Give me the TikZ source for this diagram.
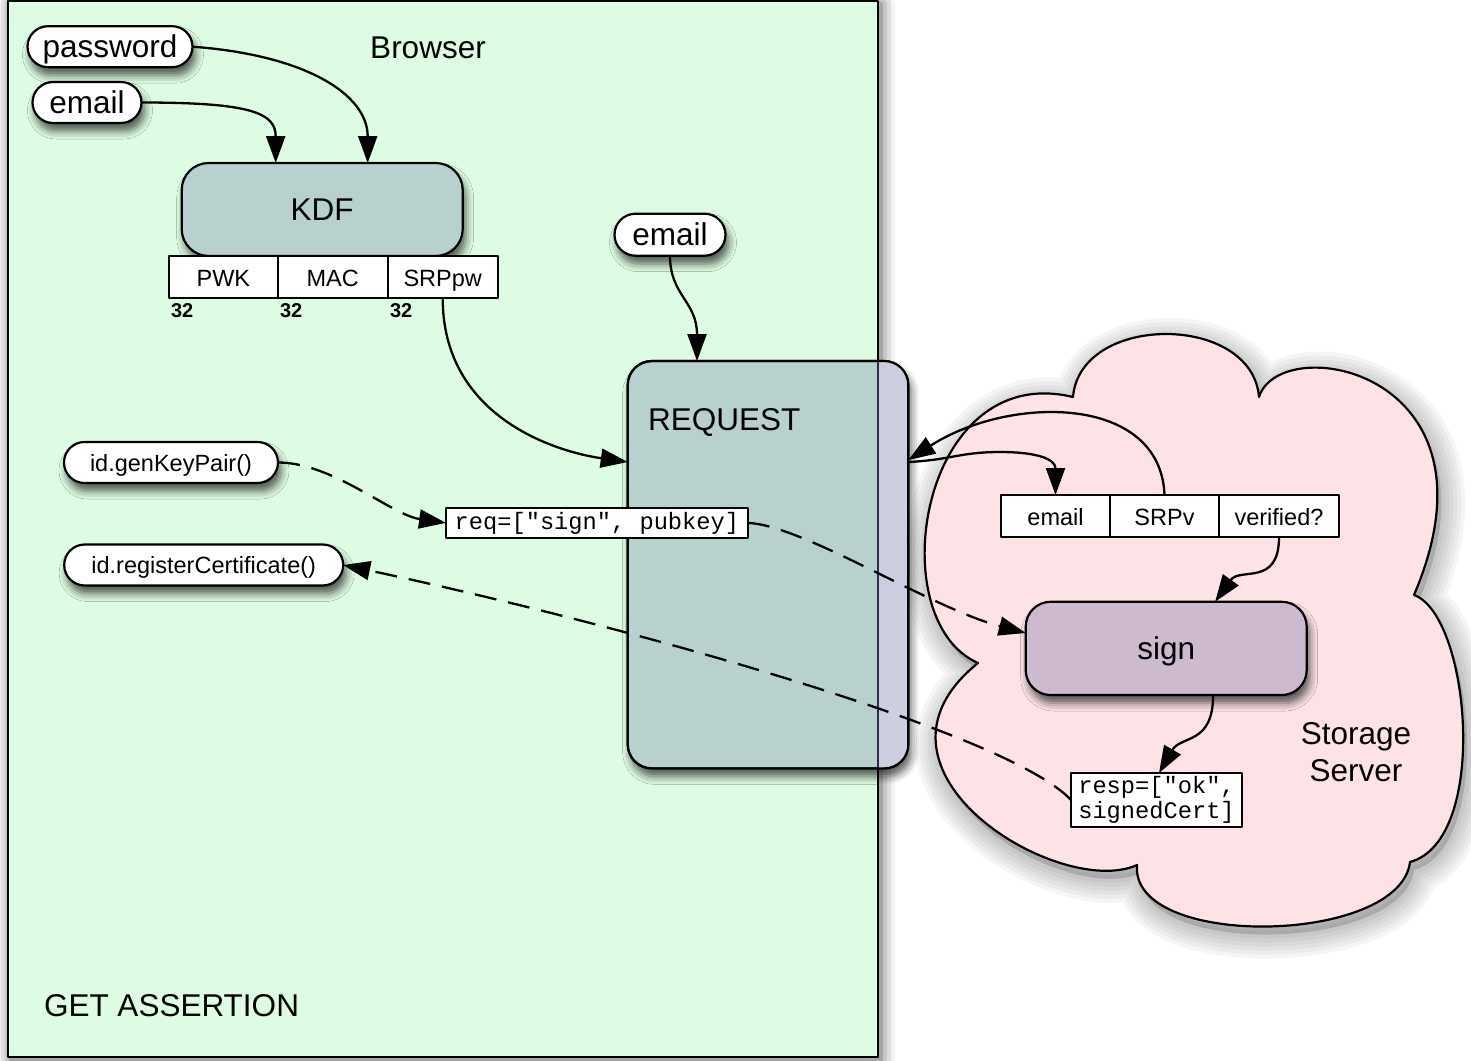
\documentclass[tikz,border=0pt]{standalone}
\usepackage{fontspec}
\setmainfont{Liberation Sans}
\setmonofont{Liberation Mono}
\usetikzlibrary{arrows.meta,shadows,shadows.blur}

\definecolor{browsergreen}{RGB}{222,252,227}
\definecolor{procfill}{RGB}{185,209,206}
\definecolor{procedge}{RGB}{205,207,224}
\definecolor{procline}{RGB}{45,45,70}
\definecolor{signfill}{RGB}{205,186,206}
\definecolor{cloudpink}{RGB}{253,227,230}

\newcommand\fbig{\fontsize{31.5}{36.5}\selectfont}
\newcommand\fmid{\fontsize{23.5}{28}\selectfont}
\newcommand\fcode{\ttfamily\fontsize{23.7}{25}\selectfont}
\newcommand\fbits{\bfseries\fontsize{20}{24}\selectfont}

% outline of the storage-server cloud
\newcommand\cloudoutline{(1073,397) .. controls (1080,313) and (1252,313) .. (1259,397)
  .. controls (1280,330) and (1510,370) .. (1414,595)
  .. controls (1470,615) and (1490,840) .. (1410,862)
  .. controls (1400,945) and (1130,950) .. (1137,865)
  .. controls (1060,900) and (845,770) .. (978,663)
  .. controls (880,620) and (920,360) .. cycle}

\begin{document}
\begin{tikzpicture}[x=1pt, y=-1pt, line join=round,
  every node/.style={outer sep=0pt},
  softshadow/.style={blur shadow={shadow xshift=3pt, shadow yshift=-8pt,
      shadow blur radius=8pt, shadow opacity=65}},
  pill/.style={draw, line width=2.2pt, fill=white, rounded corners=20.5pt,
      minimum height=41pt, inner sep=0pt, text height=21.5pt, text depth=0pt,
      softshadow},
  midpill/.style={pill, font=\fmid, text height=17pt},
  procbox/.style={draw, line width=2.2pt, fill=procfill, inner sep=0pt,
      text height=21.5pt, text depth=0pt, softshadow},
  cell/.style={draw, line width=2.2pt, fill=white, inner sep=0pt,
      minimum height=42pt, text height=18pt, text depth=0pt, font=\fmid},
  codebox/.style={draw, line width=2.2pt, fill=white, inner sep=0pt, font=\fcode},
  conn/.style={line width=2.3pt, -{Triangle[length=27pt, width=19pt]}},
  dconn/.style={conn, dash pattern=on 22pt off 12pt},
]
\useasboundingbox (0,0) rectangle (1471,1060);

% browser frame
\node[draw, line width=2.2pt, fill=browsergreen, minimum width=870pt,
  minimum height=1056pt,
  blur shadow={shadow xshift=3pt, shadow yshift=-3pt, shadow blur radius=14pt,
    shadow opacity=70}] (browser) at (443,529) {};

% storage-server cloud with a soft shadow
\foreach \w in {48,40,32,24,16,8} {
  \draw[black, draw opacity=0.04, line width=\w pt, shift={(4,8)}] \cloudoutline;
}
\fill[black, fill opacity=0.15, shift={(4,8)}] \cloudoutline;
\draw[line width=2.2pt, fill=cloudpink] \cloudoutline;

\node[font=\fbig, inner sep=0pt] (browserlbl) at (428,48) {Browser};
\node[font=\fbig, inner sep=0pt, anchor=base west] (assertlbl) at (44,1016.5) {GET ASSERTION};

% inputs and key derivation
\node[pill, minimum width=165pt, font=\fbig] (pw) at (110,46.7) {password};
\node[pill, minimum width=109pt, font=\fbig] (mail1) at (87,102.5) {email};

\node[procbox, rounded corners=27pt, minimum width=281pt, minimum height=93pt,
  font=\fbig] (kdf) at (322.2,209.5) {KDF};

\node[cell, minimum width=108.7pt] (pwk) at (223.35,277.2) {PWK};
\node[cell, minimum width=110pt] (mac) at (332.7,277.2) {MAC};
\node[cell, minimum width=110pt] (srppw) at (442.7,277.2) {SRPpw};
\node[font=\fbits, inner sep=0pt, anchor=west] (bits1) at (171,311) {32};
\node[font=\fbits, inner sep=0pt, anchor=west] (bits2) at (280,311) {32};
\node[font=\fbits, inner sep=0pt, anchor=west] (bits3) at (390,311) {32};

\node[pill, minimum width=111pt, minimum height=42pt, rounded corners=21pt,
  font=\fbig] (mail2) at (670,234.7) {email};

\node[midpill, minimum width=214pt] (gk) at (171,462.5) {id.genKeyPair()};
\node[midpill, minimum width=279pt] (rc) at (203.7,565) {id.registerCertificate()};

% request box, tinted where it leaves the browser frame
\node[procbox, rounded corners=24pt, minimum width=280.6pt,
  minimum height=407.3pt] (request) at (768,564.7) {};
\begin{scope}
  \clip (878,340) rectangle (940,790);
  \fill[procedge, rounded corners=24pt] (request.south west) rectangle (request.north east);
\end{scope}
\draw[procline, line width=2.2pt] (browser.east |- request.north) -- (browser.east |- request.south);
\draw[line width=2.2pt, rounded corners=24pt] (request.south west) rectangle (request.north east);
\node[font=\fbig, inner sep=0pt, anchor=base west] (requestlbl) at (648,430) {REQUEST};

\node[codebox, minimum width=301.7pt, minimum height=29.7pt] (reqmsg)
  at (596.9,522.9) {req=["sign", pubkey]};

% storage server contents
\node[cell, minimum width=109pt] (smail) at (1055.5,516) {email};
\node[cell, minimum width=109pt] (srpv) at (1164.5,516) {SRPv};
\node[cell, minimum width=120pt] (verif) at (1279,516) {verified?};

\node[procbox, fill=signfill, rounded corners=25pt, minimum width=281pt,
  minimum height=93.3pt, font=\fbig] (sign) at (1166.2,648.4) {sign};

\node[codebox, minimum width=171pt, minimum height=54pt, align=left] (resp)
  at (1156.5,800) {resp=["ok",\\signedCert]};

\node[font=\fbig, inner sep=0pt, align=center] (storelbl) at (1356,752) {Storage\\Server};

% connectors
\draw[conn] (mail1.east) .. controls +(110,0) and +(0,-50) .. ([xshift=94pt]kdf.north west);
\draw[conn] (pw.east) .. controls +(110,8) and +(0,-70) .. ([xshift=186pt]kdf.north west);
\draw[conn] (mail2.south) .. controls +(0,40) and +(0,-60) .. ([xshift=69.3pt]request.north west);
\draw[conn] (srppw.south) .. controls +(0,120) and +(-70,-10) .. ([yshift=102.7pt]request.west);
\draw[conn] ([yshift=102.7pt]request.east) .. controls +(42,-2) and +(-40,0) .. (1000,452)
  .. controls +(40,0) and +(0,-35) .. (smail.north);
\draw[conn] (srpv.north) .. controls +(-4,-101) and +(101,-65) .. ([yshift=104.7pt]request.east);
\draw[conn] (verif.south) .. controls +(0,50) and +(25,-35) .. ([xshift=189.4pt]sign.north west);
\draw[conn] ([xshift=187.4pt]sign.south west) .. controls +(0,50) and +(22,-38) .. ([xshift=88pt]resp.north west);

\draw[dconn] (gk.east) .. controls +(55,0) and +(-55,-8) .. (reqmsg.west);
\draw[dconn] (reqmsg.east) .. controls +(55,2) and +(-95,-25) .. ([yshift=15.4pt]sign.west);
\draw[dconn] (resp.west) .. controls +(-65,-70) and +(260,55) .. (rc.east);
\end{tikzpicture}
\end{document}
